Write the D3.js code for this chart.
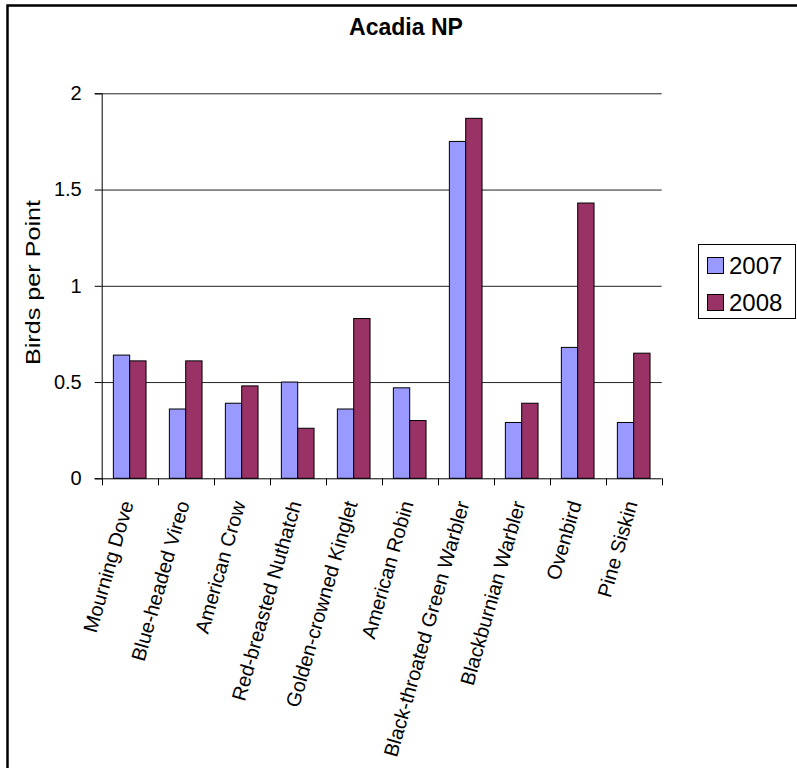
<!DOCTYPE html>
<html>
<head>
<meta charset="utf-8">
<script src="https://cdn.jsdelivr.net/npm/d3@7"></script>
<style>
  html, body { margin: 0; padding: 0; background: #fff; }
  svg { display: block; font-family: "Liberation Sans", Arial, sans-serif; }
</style>
</head>
<body>
<svg id="chart" width="797" height="768"></svg>
<script>
// Bird counts per point, Acadia NP
const species = [
  "Mourning Dove", "Blue-headed Vireo", "American Crow", "Red-breasted Nuthatch",
  "Golden-crowned Kinglet", "American Robin", "Black-throated Green Warbler",
  "Blackburnian Warbler", "Ovenbird", "Pine Siskin"
];
const seriesNames = ["2007", "2008"];
const values2007 = [0.64, 0.36, 0.39, 0.50, 0.36, 0.47, 1.75, 0.29, 0.68, 0.29];
const values2008 = [0.61, 0.61, 0.48, 0.26, 0.83, 0.30, 1.87, 0.39, 1.43, 0.65];
const yTicks = [0, 0.5, 1, 1.5, 2];
const seriesColors = ["#9999FF", "#993366"];

const svg = d3.select("#chart");
const plot = { left: 101.7, top: 93.3, width: 560, height: 385 };

// outer chart frame
svg.append("rect")
  .attr("x", 7.5).attr("y", 5.5)
  .attr("width", 900).attr("height", 900)
  .attr("fill", "none").attr("stroke", "#000").attr("stroke-width", 2.5);

const x = d3.scaleBand().domain(species)
  .range([plot.left, plot.left + plot.width]).paddingInner(0).paddingOuter(0);
const xs = d3.scaleBand().domain(seriesNames)
  .range([0, x.bandwidth()]).paddingInner(0).paddingOuter(0.714);
const y = d3.scaleLinear().domain([0, 2]).range([plot.top + plot.height, plot.top]);

// horizontal gridlines
svg.append("g")
  .attr("transform", `translate(${plot.left},0)`)
  .call(d3.axisLeft(y).tickValues(yTicks.filter(v => v > 0)).tickSize(-plot.width).tickFormat(""))
  .call(g => g.select(".domain").remove())
  .call(g => g.selectAll("line").attr("stroke", "#222"));

// bars
const rows = species.map((s, i) => ({ s, vals: [values2007[i], values2008[i]] }));
const groups = svg.append("g").selectAll("g").data(rows).join("g")
  .attr("transform", d => `translate(${x(d.s)},0)`);
groups.selectAll("rect")
  .data(d => d.vals.map((v, k) => ({ key: seriesNames[k], v, k })))
  .join("rect")
  .attr("x", d => xs(d.key))
  .attr("y", d => y(d.v))
  .attr("width", xs.bandwidth())
  .attr("height", d => y(0) - y(d.v))
  .attr("fill", d => seriesColors[d.k])
  .attr("stroke", "#000").attr("stroke-width", 1);

// y axis
svg.append("g")
  .attr("transform", `translate(${plot.left},0)`)
  .call(d3.axisLeft(y).tickValues(yTicks).tickSize(7).tickPadding(13).tickFormat(d3.format("")))
  .call(g => g.selectAll("text").attr("font-size", 20).attr("fill", "#000")
    .attr("font-family", "'Liberation Sans', Arial, sans-serif"))
  .call(g => g.selectAll("line, path").attr("stroke", "#000"));

// x axis: ticks at category boundaries
const xAxis = svg.append("g")
  .attr("transform", `translate(0,${y(0)})`);
xAxis.append("line")
  .attr("x1", plot.left).attr("x2", plot.left + plot.width)
  .attr("y1", 0.5).attr("y2", 0.5).attr("stroke", "#000");
const bounds = species.map(s => x(s)).concat([plot.left + plot.width]);
xAxis.selectAll("line.tick").data(bounds).join("line")
  .attr("class", "tick")
  .attr("x1", d => Math.round(d) + 0.5).attr("x2", d => Math.round(d) + 0.5)
  .attr("y1", 0).attr("y2", 7).attr("stroke", "#000");
xAxis.selectAll("text").data(species).join("text")
  .attr("transform", d => `translate(${x(d) + x.bandwidth() / 2 + 4},25) rotate(-74)`)
  .attr("text-anchor", "end")
  .attr("font-size", 20)
  .attr("fill", "#000")
  .text(d => d);

// title
svg.append("text")
  .attr("x", 406).attr("y", 35)
  .attr("text-anchor", "middle")
  .attr("font-size", 23).attr("font-weight", "bold")
  .text("Acadia NP");

// y axis title
svg.append("text")
  .attr("transform", `translate(40,${282.5}) rotate(-90)`)
  .attr("text-anchor", "middle")
  .attr("font-size", 21)
  .attr("textLength", 165).attr("lengthAdjust", "spacingAndGlyphs")
  .text("Birds per Point");

// legend
const legend = svg.append("g");
legend.append("rect")
  .attr("x", 698.5).attr("y", 244.5).attr("width", 97).attr("height", 74)
  .attr("fill", "#fff").attr("stroke", "#000");
const items = legend.selectAll("g.item").data(seriesNames).join("g")
  .attr("class", "item")
  .attr("transform", (d, i) => `translate(0,${i * 37})`);
items.append("rect")
  .attr("x", 707.5).attr("y", 257.5).attr("width", 16).attr("height", 16)
  .attr("fill", (d, i) => seriesColors[i]).attr("stroke", "#000");
items.append("text")
  .attr("x", 729).attr("y", 273.5)
  .attr("font-size", 24)
  .text(d => d);
</script>
</body>
</html>
